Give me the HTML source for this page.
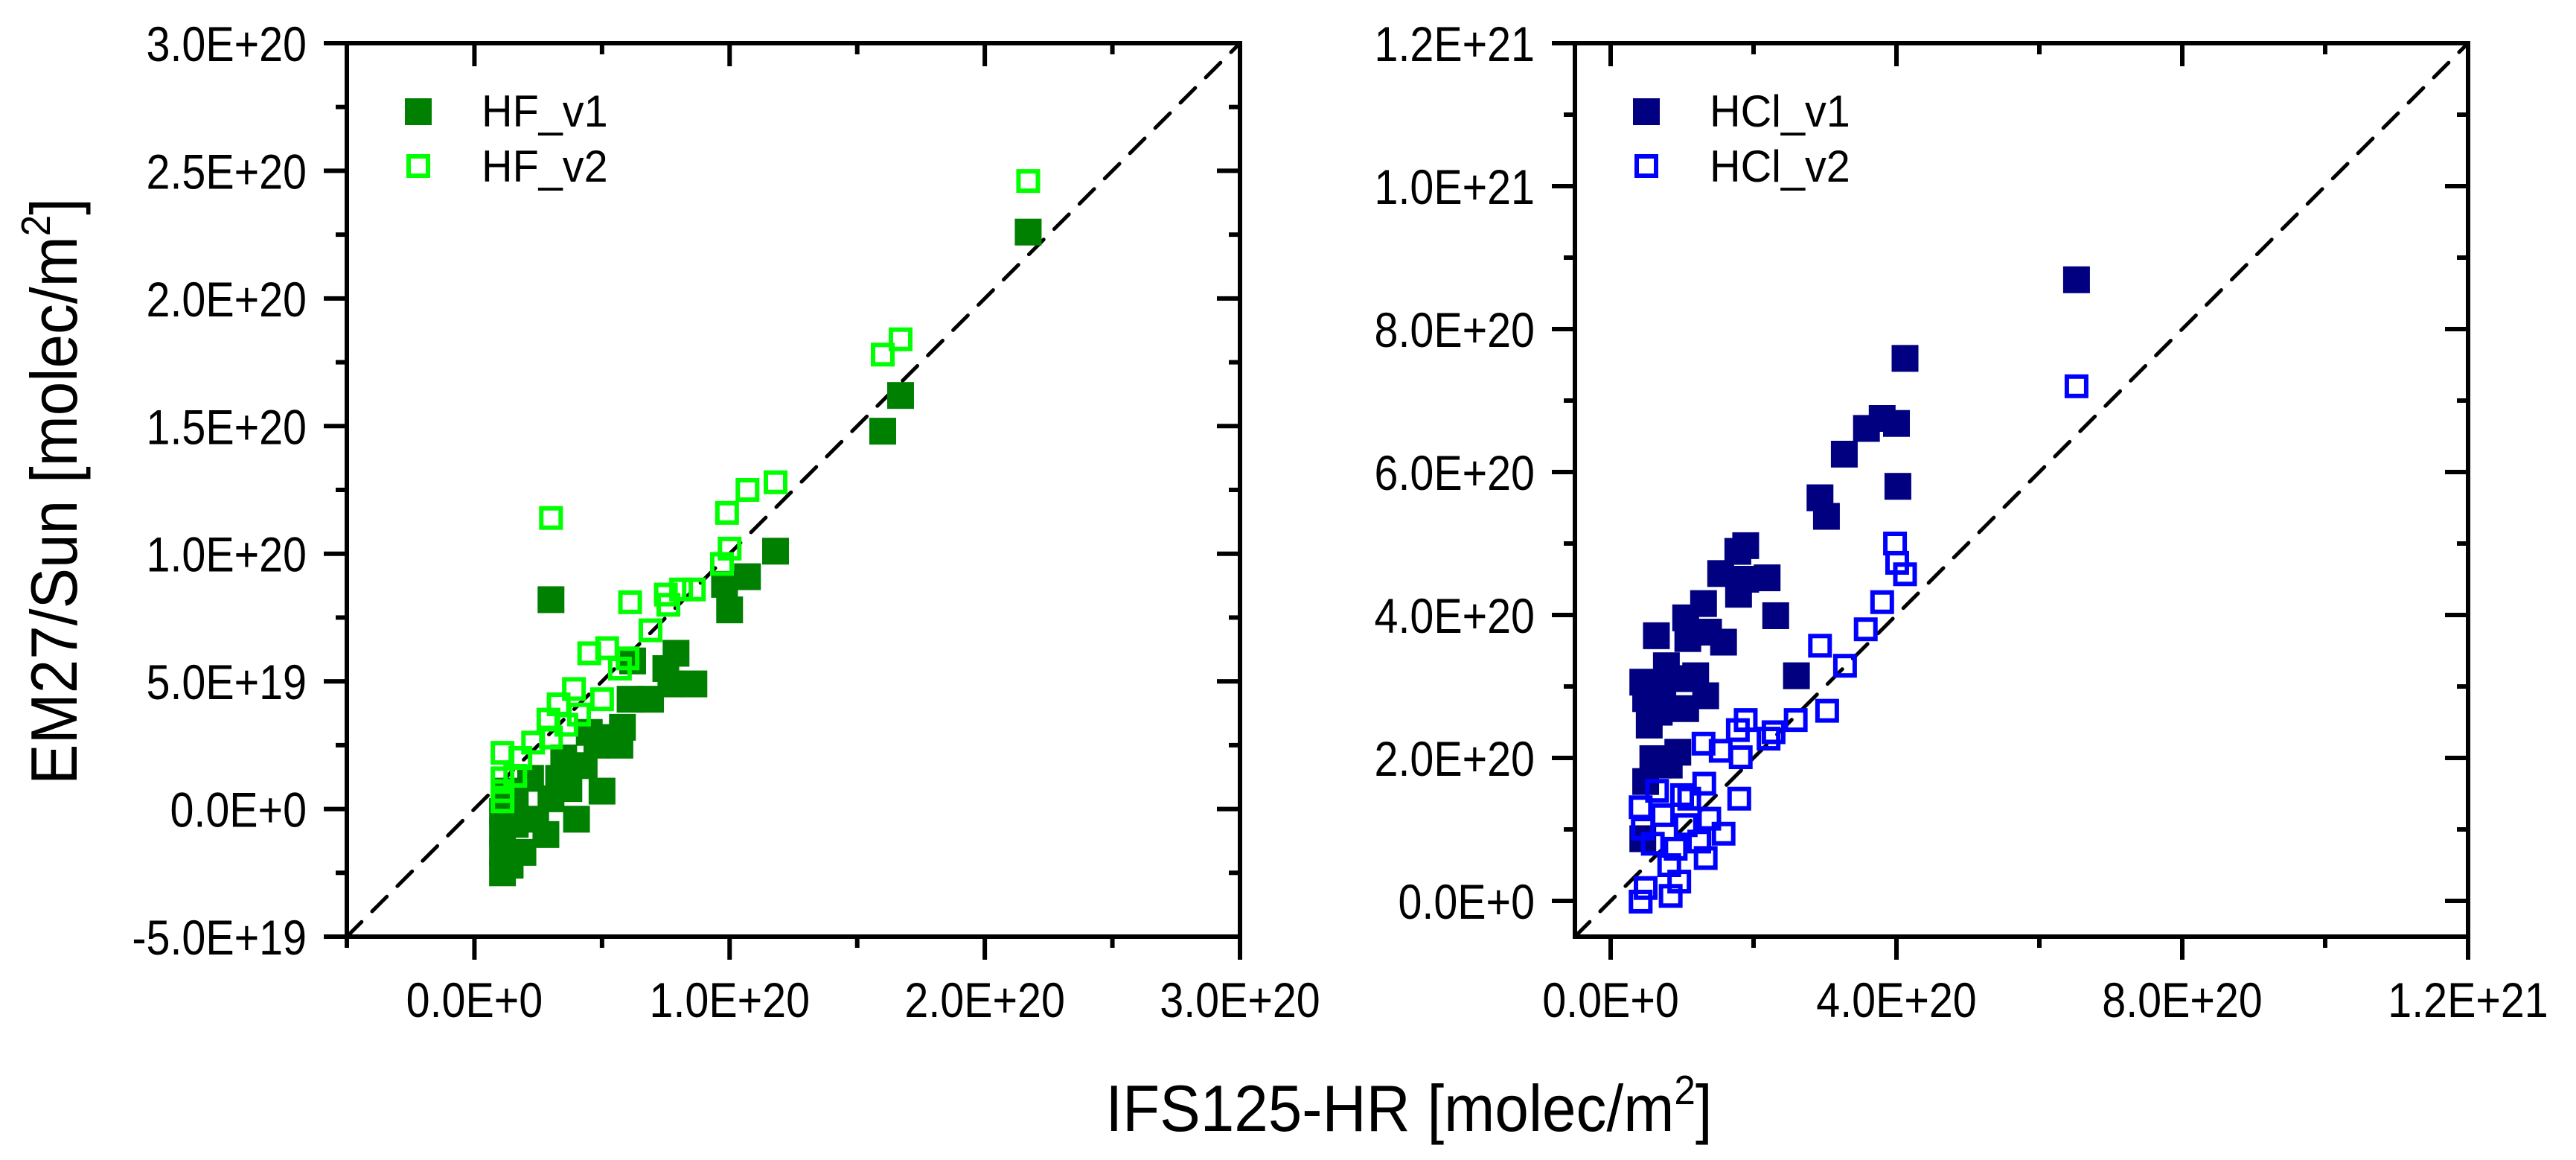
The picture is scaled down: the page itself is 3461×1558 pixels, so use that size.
<!DOCTYPE html>
<html><head><meta charset="utf-8"><style>
html,body{margin:0;padding:0;background:#fff}
svg{display:block}
text{font-family:"Liberation Sans",Arial,sans-serif;fill:#000}
</style></head><body>
<svg id="chart" width="3461" height="1558" viewBox="0 0 3461 1558" xmlns="http://www.w3.org/2000/svg">
<rect width="3461" height="1558" fill="#fff"/>
<g transform="translate(103,660) rotate(-90) scale(0.93,1)"><text x="0" y="0" font-size="88" text-anchor="middle">EM27/Sun [molec/m<tspan font-size="55" dy="-36">2</tspan><tspan dy="36">]</tspan></text></g>
<g transform="translate(1893,1519) scale(0.93,1)"><text x="0" y="0" font-size="88" text-anchor="middle">IFS125-HR [molec/m<tspan font-size="55" dy="-36">2</tspan><tspan dy="36">]</tspan></text></g>
</svg>
<script>
// HF panel data (units of 1e20 molec/m2)
const hfV1X = [2.17,1.67,1.60,1.18,1.07,0.98,1.00,0.30,0.79,0.75,0.86,0.77,0.69,0.61,0.62,0.58,0.50,0.57,0.50,0.43,0.35,0.37,0.40,0.30,0.28,0.22,0.19,0.16,0.11,0.14,0.11,0.11,0.11,0.12,0.16,0.24,0.33,0.45,0.48];
const hfV1Y = [2.26,1.62,1.48,1.01,0.91,0.88,0.78,0.82,0.61,0.55,0.49,0.49,0.43,0.43,0.58,0.32,0.28,0.25,0.07,0.17,0.20,0.08,-0.04,0.04,-0.10,0.12,-0.17,-0.06,-0.25,-0.22,-0.17,-0.09,-0.01,0.07,0.02,-0.04,0.12,0.30,0.25];
const hfV2X = [2.17,1.60,1.67,1.18,1.07,0.99,1.00,0.97,0.30,0.86,0.81,0.75,0.76,0.61,0.69,0.52,0.45,0.60,0.57,0.50,0.39,0.33,0.41,0.29,0.36,0.23,0.30,0.18,0.11,0.16,0.11,0.11,0.11];
const hfV2Y = [2.46,1.78,1.84,1.28,1.25,1.16,1.02,0.96,1.14,0.86,0.86,0.84,0.80,0.81,0.70,0.63,0.61,0.59,0.55,0.43,0.47,0.41,0.37,0.35,0.33,0.26,0.28,0.20,0.22,0.13,0.12,0.07,0.03];
// HCl panel data (units of 1e20 molec/m2)
const hclV1X = [6.52,4.12,3.58,3.80,4.00,3.27,4.02,2.93,3.02,1.89,1.78,1.54,2.19,1.89,1.79,2.31,1.30,1.05,0.64,1.37,1.58,1.08,2.60,0.78,0.45,0.73,0.96,1.19,1.33,0.49,1.05,0.68,0.54,0.59,0.94,0.82,0.49,0.45,0.68];
const hclV1Y = [8.69,7.59,6.61,6.75,6.68,6.25,5.80,5.64,5.38,4.97,4.89,4.58,4.52,4.50,4.29,3.99,4.16,3.96,3.71,3.76,3.62,3.67,3.15,3.29,3.06,3.01,3.11,3.15,2.87,2.83,2.69,2.64,2.46,1.99,2.08,1.90,1.67,0.87,1.90];
const hclV2X = [6.52,3.98,4.01,4.12,3.80,3.57,2.93,3.28,3.03,2.59,2.28,2.21,1.89,1.78,1.82,1.30,1.54,1.80,1.31,1.10,1.00,0.65,0.42,0.45,0.73,1.05,1.38,1.58,1.24,0.91,0.59,1.33,0.82,0.96,0.49,0.42,0.84];
const hclV2Y = [7.20,5.00,4.73,4.57,4.18,3.80,3.57,3.29,2.66,2.53,2.36,2.27,2.53,2.39,2.01,2.20,2.10,1.43,1.64,1.43,1.48,1.54,1.31,1.01,1.20,1.06,1.15,0.94,0.83,0.73,0.80,0.60,0.50,0.27,0.18,-0.01,0.07];
// axis tick values (units of 1e20)
const hfXMajor = [0,1,2,3];
const hfXLabels = ["0.0E+0","1.0E+20","2.0E+20","3.0E+20"];
const hfXMinor = [-0.5,0.5,1.5,2.5];
const hfYMajor = [-0.5,0,0.5,1,1.5,2,2.5,3];
const hfYLabels = ["-5.0E+19","0.0E+0","5.0E+19","1.0E+20","1.5E+20","2.0E+20","2.5E+20","3.0E+20"];
const hfYMinor = [-0.25,0.25,0.75,1.25,1.75,2.25,2.75];
const hclXMajor = [0,4,8,12];
const hclXLabels = ["0.0E+0","4.0E+20","8.0E+20","1.2E+21"];
const hclXMinor = [2,6,10];
const hclYMajor = [0,2,4,6,8,10,12];
const hclYLabels = ["0.0E+0","2.0E+20","4.0E+20","6.0E+20","8.0E+20","1.0E+21","1.2E+21"];
const hclYMinor = [1,3,5,7,9,11];

const NS = "http://www.w3.org/2000/svg";
const svg = document.getElementById('chart');
function mk(tag, attrs, parent){ const e=document.createElementNS(NS,tag); for(const k in attrs) e.setAttribute(k,attrs[k]); (parent||svg).appendChild(e); return e; }

function panel(cfg){
  const L=cfg.left, T=58, S=1200;
  const sx = v => L + (v-cfg.min)/(cfg.max-cfg.min)*S;
  const sy = v => T+S - (v-cfg.min)/(cfg.max-cfg.min)*S;
  const g = mk('g',{});
  
  
  // diagonal 1:1 line
  const d = mk('line',{x1:sx(cfg.min),y1:sy(cfg.min),x2:sx(cfg.max),y2:sy(cfg.max),stroke:'#000','stroke-width':5,'stroke-dasharray':'28 20','stroke-linecap':'round'},g);
  
  
  // v1 filled
  const s1=cfg.v1x;
  for(let i=0;i<s1.length;i++){
    const r=mk('rect',{x:sx(cfg.v1x[i])-18,y:sy(cfg.v1y[i])-18,width:36,height:36,fill:cfg.c1},g);
    
    
  }
  for(let i=0;i<cfg.v2x.length;i++){
    const r=mk('rect',{x:sx(cfg.v2x[i])-13,y:sy(cfg.v2y[i])-13,width:26,height:26,fill:'none',stroke:cfg.c2,'stroke-width':6},g);
    
    
  }
  // frame
  const fr=mk('rect',{x:L,y:T,width:S,height:S,fill:'none',stroke:'#000','stroke-width':6},g);
  
  
  const tk=(x1,y1,x2,y2)=>mk('line',{x1,y1,x2,y2,stroke:'#000','stroke-width':6},g);
  cfg.xMajor.forEach((v,i)=>{
    const x=sx(v);
    tk(x,T+S,x,T+S+31); tk(x,T,x,T+31);
    const tg=mk('g',{transform:`translate(${x},1366) scale(0.87,1)`},g);
    const t=mk('text',{x:0,y:0,'font-size':66,'text-anchor':'middle'},tg);
    t.textContent=cfg.xLabels[i];
    
    
  });
  cfg.xMinor.forEach(v=>{const x=sx(v); tk(x,T+S,x,T+S+15); tk(x,T,x,T+15);});
  cfg.yMajor.forEach((v,i)=>{
    const y=sy(v);
    tk(L-31,y,L,y); tk(L+S-31,y,L+S,y);
    const tg=mk('g',{transform:`translate(${L-54},${y+24}) scale(0.87,1)`},g);
    const t=mk('text',{x:0,y:0,'font-size':66,'text-anchor':'end'},tg);
    t.textContent=cfg.yLabels[i];
    
    
  });
  cfg.yMinor.forEach(v=>{const y=sy(v); tk(L-15,y,L,y); tk(L+S-15,y,L+S,y);});
  // legend
  const lg=mk('g',{},g);
  
  
  const lx=L+96;
  const m1=mk('rect',{x:lx-18,y:132,width:36,height:36,fill:cfg.c1},lg);
  
  
  const m2=mk('rect',{x:lx-13,y:210,width:26,height:26,fill:'none',stroke:cfg.c2,'stroke-width':6},lg);
  
  
  [[cfg.n1,170],[cfg.n2,244]].forEach(([s,y])=>{
    const tg=mk('g',{transform:`translate(${L+181},${y}) scale(0.96,1)`},lg);
    const t=mk('text',{x:0,y:0,'font-size':60},tg);
    t.textContent=s;
    
    
  });
}
panel({name:'hf',left:466,min:-0.5,max:3,v1x:hfV1X,v1y:hfV1Y,v2x:hfV2X,v2y:hfV2Y,c1:'#008000',c2:'#00ff00',
  xMajor:hfXMajor,xLabels:hfXLabels,xMinor:hfXMinor,yMajor:hfYMajor,yLabels:hfYLabels,yMinor:hfYMinor,n1:'HF_v1',n2:'HF_v2'});
panel({name:'hcl',left:2116,min:-0.5,max:12,v1x:hclV1X,v1y:hclV1Y,v2x:hclV2X,v2y:hclV2Y,c1:'#000080',c2:'#0000ff',
  xMajor:hclXMajor,xLabels:hclXLabels,xMinor:hclXMinor,yMajor:hclYMajor,yLabels:hclYLabels,yMinor:hclYMinor,n1:'HCl_v1',n2:'HCl_v2'});
</script>
</body></html>
